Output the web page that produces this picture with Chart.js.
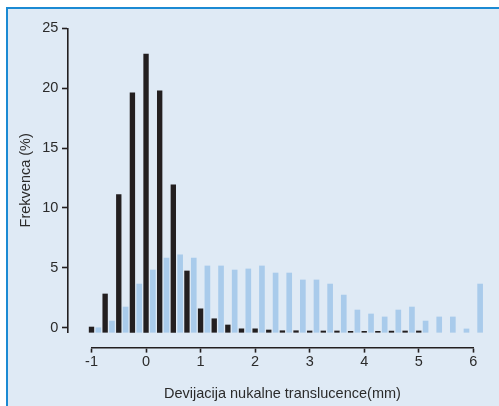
<!DOCTYPE html>
<html>
<head>
<meta charset="utf-8">
<script src="https://cdn.jsdelivr.net/npm/chart.js@4.4.1/dist/chart.umd.min.js"></script>
<style>
  html, body { margin: 0; padding: 0; background: #ffffff; overflow: hidden; width: 499px; height: 406px; }
  #panel {
    position: fixed; left: 6px; top: 7px; right: -30px; bottom: -30px;
    background: #dfeaf5;
    border-top: 2px solid #1b8ad3;
    border-left: 2px solid #1b8ad3;
  }
  #c { position: fixed; left: 0; top: 0; }
</style>
</head>
<body>
<div id="panel"></div>
<canvas id="c" width="499" height="406"></canvas>
<script>
// Bin centres (mm) and frequencies (%) for the two groups
const normalBins = [-1, -0.75, -0.5, -0.25, 0, 0.25, 0.5, 0.75, 1, 1.25, 1.5, 1.75,
                    2, 2.25, 2.5, 2.75, 3, 3.25, 3.5, 3.75, 4, 4.25, 4.5, 4.75, 5];
const normalFreq = [0.44, 3.2, 11.5, 20.0, 23.24, 20.17, 12.32, 5.12, 1.96, 1.13, 0.61, 0.29,
                    0.29, 0.19, 0.13, 0.13, 0.11, 0.11, 0.11, 0.08, 0.08, 0.08, 0.1, 0.11, 0.11];

const abnormalBins = [-0.875, -0.625, -0.375, -0.125, 0.125, 0.375, 0.625, 0.875, 1.125, 1.375,
                      1.625, 1.875, 2.125, 2.375, 2.625, 2.875, 3.125, 3.375, 3.625, 3.875,
                      4.125, 4.375, 4.625, 4.875, 5.125, 5.375, 5.625, 5.875, 6.125];
const abnormalFreq = [0.38, 0.94, 2.11, 4.03, 5.2, 6.2, 6.47, 6.2, 5.54, 5.54,
                      5.2, 5.29, 5.54, 4.95, 4.95, 4.37, 4.37, 4.03, 3.11, 1.86,
                      1.53, 1.28, 1.86, 2.11, 0.94, 1.28, 1.28, 0.28, 4.03];

// Axis ticks
const xTicks = [-1, 0, 1, 2, 3, 4, 5, 6];
const yTicks = [0, 5, 10, 15, 20, 25];

const xTitle = 'Devijacija nukalne translucence(mm)';
const yTitle = 'Frekvenca (%)';

const INK = '#231f20';
const TEXT = '#2b2b2b';
const BLUE = '#a9cbeb';
const FONT = { family: "'Liberation Sans', Arial, Helvetica, sans-serif", size: 14.5 };

Chart.defaults.font = FONT;
Chart.defaults.color = TEXT;

// The bars sit on a baseline slightly below the "0" tick, so the bars use their
// own hidden value scale that shares the pixel range of the visible axis.
const yMin = -0.384;
const yMax = yTicks[yTicks.length - 1];

const toPoints = (xs, ys) => xs.map((x, i) => ({ x: x, y: ys[i] }));
const fixedTicks = list => s => { s.ticks = list.map(v => ({ value: v })); };

new Chart(document.getElementById('c'), {
  type: 'bar',
  data: {
    datasets: [
      {
        data: toPoints(normalBins, normalFreq),
        backgroundColor: INK,
        barThickness: 4.7,
        grouped: false,
        clip: false,
        xAxisID: 'x',
        yAxisID: 'yBars'
      },
      {
        data: toPoints(abnormalBins, abnormalFreq),
        backgroundColor: BLUE,
        barThickness: 5,
        grouped: false,
        clip: false,
        xAxisID: 'x',
        yAxisID: 'yBars'
      }
    ]
  },
  options: {
    responsive: false,
    animation: false,
    devicePixelRatio: 1,
    layout: { padding: { left: 13, top: 28.3, right: 25.7, bottom: 73.7 } },
    plugins: { legend: { display: false }, tooltip: { enabled: false } },
    scales: {
      x: {
        type: 'linear',
        offset: false,
        min: xTicks[0],
        max: xTicks[xTicks.length - 1],
        position: { y: -1.695 },
        afterBuildTicks: fixedTicks(xTicks),
        ticks: { padding: 1.5, color: TEXT },
        grid: { offset: false, drawOnChartArea: false, tickLength: 4, tickWidth: 1.6, tickColor: INK },
        border: { width: 1.6, color: INK },
        title: { display: true, text: xTitle, color: TEXT, padding: { top: 13, bottom: 0 } }
      },
      // axis line and tick marks
      y: {
        type: 'linear',
        min: yMin,
        max: yMax,
        position: { x: -1.431 },
        afterBuildTicks: fixedTicks(yTicks),
        ticks: { display: false },
        grid: { drawOnChartArea: false, tickLength: 5, tickWidth: 1.6, tickColor: INK },
        border: { width: 1.6, color: INK }
      },
      // tick labels, set a little to the left of the axis line
      yTickLabels: {
        type: 'linear',
        min: yMin,
        max: yMax,
        position: { x: -1.6086 },
        afterBuildTicks: fixedTicks(yTicks),
        ticks: { color: TEXT },
        grid: { display: false },
        border: { display: false }
      },
      yBars: {
        type: 'linear',
        position: 'left',
        display: false,
        min: 0,
        max: yMax - yMin
      },
      yLabel: {
        type: 'linear',
        position: 'left',
        display: true,
        ticks: { display: false },
        grid: { display: false, drawTicks: false },
        border: { display: false },
        title: { display: true, text: yTitle, color: TEXT, padding: { top: 4.3, bottom: 56.8 } }
      }
    }
  }
});
</script>
</body>
</html>
